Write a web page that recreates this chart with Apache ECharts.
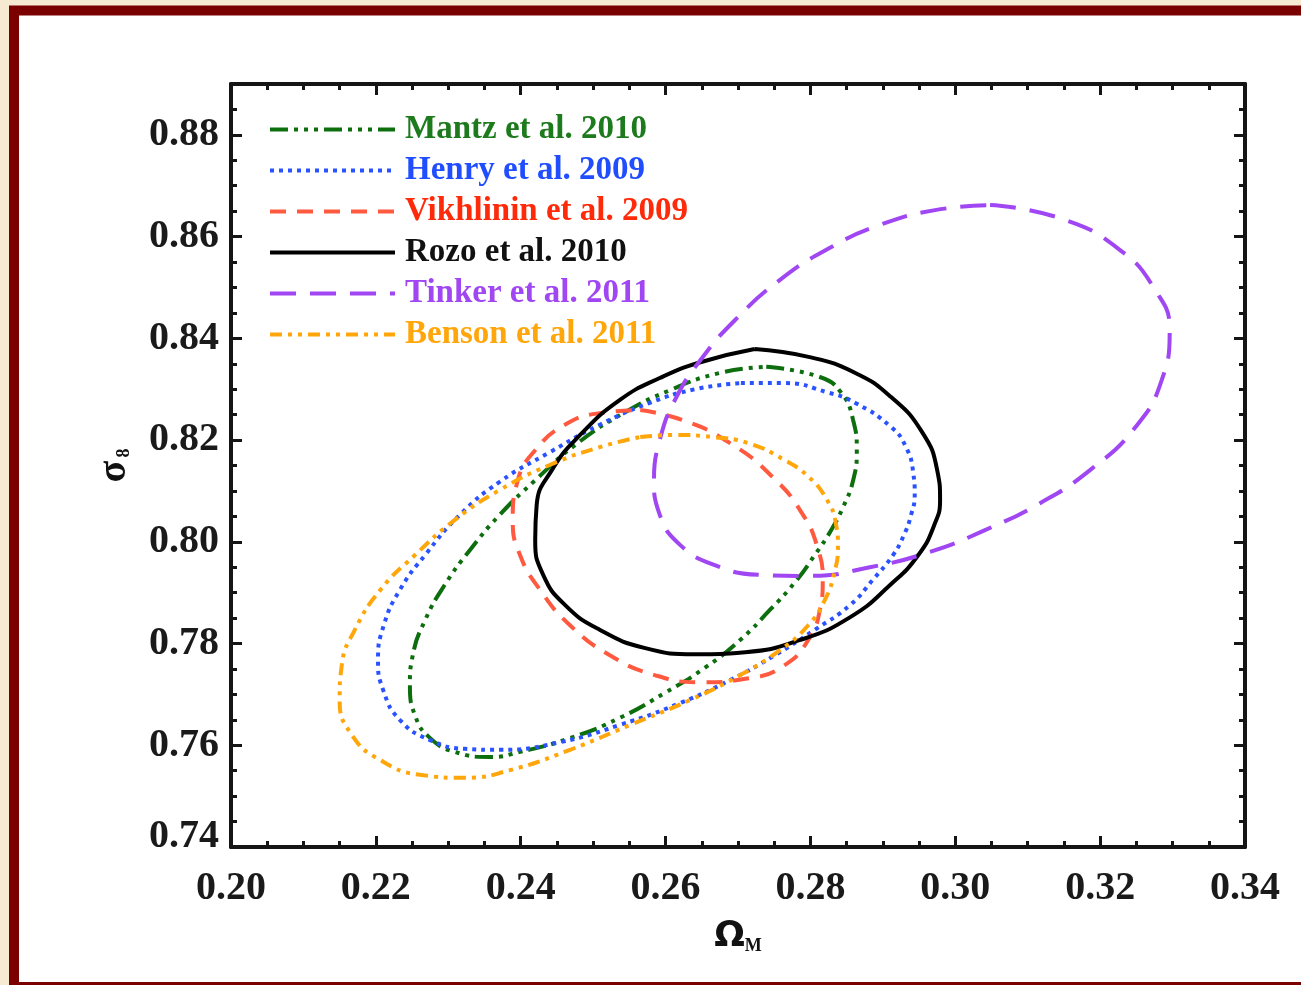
<!DOCTYPE html>
<html><head><meta charset="utf-8">
<script src="https://cdn.jsdelivr.net/npm/echarts@6/dist/echarts.min.js"></script>
<style>html,body{margin:0;padding:0;background:#f6ead2;}#c{width:1301px;height:985px;}</style>
</head><body><div id="c"></div>
<script>
// ---- data (Omega_M, sigma_8) ----
const names = ['Mantz et al. 2010','Henry et al. 2009','Vikhlinin et al. 2009','Rozo et al. 2010','Tinker et al. 2011','Benson et al. 2011'];
const mantz = [[0.2739,0.8344],[0.2813,0.8324],[0.2842,0.8294],[0.2859,0.8239],[0.2864,0.8180],[0.2859,0.8121],[0.2845,0.8068],[0.2827,0.8019],[0.2806,0.7974],[0.2779,0.7921],[0.2744,0.7866],[0.2703,0.7807],[0.2654,0.7752],[0.2599,0.7703],[0.2537,0.7654],[0.2468,0.7614],[0.2399,0.7587],[0.2358,0.7577],[0.2309,0.7587],[0.2275,0.7614],[0.2254,0.7659],[0.2247,0.7718],[0.2251,0.7777],[0.2268,0.7846],[0.2295,0.7915],[0.2330,0.7984],[0.2371,0.8053],[0.2420,0.8121],[0.2475,0.8190],[0.2537,0.8249],[0.2606,0.8298],[0.2675,0.8332],[0.2739,0.8344]];
const henry = [[0.2704,0.8312],[0.2764,0.8312],[0.2823,0.8294],[0.2862,0.8273],[0.2911,0.8226],[0.2932,0.8186],[0.2942,0.8135],[0.2944,0.8092],[0.2939,0.8053],[0.2929,0.8013],[0.2914,0.7974],[0.2886,0.7925],[0.2855,0.7876],[0.2806,0.7827],[0.2751,0.7777],[0.2689,0.7728],[0.2620,0.7683],[0.2537,0.7640],[0.2454,0.7606],[0.2371,0.7591],[0.2323,0.7593],[0.2275,0.7610],[0.2233,0.7650],[0.2210,0.7709],[0.2203,0.7768],[0.2211,0.7836],[0.2233,0.7905],[0.2268,0.7974],[0.2316,0.8053],[0.2371,0.8118],[0.2440,0.8176],[0.2509,0.8230],[0.2578,0.8273],[0.2641,0.8300],[0.2704,0.8312]];
const vikhlinin = [[0.2565,0.8259],[0.2624,0.8239],[0.2689,0.8194],[0.2748,0.8127],[0.2788,0.8057],[0.2810,0.7988],[0.2817,0.7925],[0.2813,0.7866],[0.2797,0.7807],[0.2765,0.7758],[0.2717,0.7732],[0.2648,0.7724],[0.2585,0.7738],[0.2523,0.7777],[0.2468,0.7836],[0.2427,0.7905],[0.2399,0.7974],[0.2389,0.8043],[0.2396,0.8121],[0.2420,0.8180],[0.2461,0.8230],[0.2509,0.8253],[0.2565,0.8259]];
const rozo = [[0.2723,0.8379],[0.2799,0.8363],[0.2862,0.8332],[0.2911,0.8285],[0.2954,0.8216],[0.2975,0.8141],[0.2979,0.8082],[0.2971,0.8033],[0.2949,0.7974],[0.2910,0.7915],[0.2855,0.7852],[0.2786,0.7807],[0.2710,0.7783],[0.2641,0.7779],[0.2572,0.7791],[0.2509,0.7827],[0.2461,0.7876],[0.2431,0.7935],[0.2420,0.8003],[0.2422,0.8072],[0.2443,0.8141],[0.2482,0.8210],[0.2537,0.8279],[0.2592,0.8322],[0.2648,0.8353],[0.2723,0.8379]];
const tinker = [[0.3048,0.8662],[0.3145,0.8636],[0.3227,0.8574],[0.3276,0.8495],[0.3296,0.8416],[0.3285,0.8318],[0.3248,0.8224],[0.3186,0.8141],[0.3117,0.8076],[0.3041,0.8023],[0.2965,0.7980],[0.2882,0.7950],[0.2799,0.7933],[0.2730,0.7935],[0.2668,0.7954],[0.2620,0.7994],[0.2592,0.8053],[0.2584,0.8121],[0.2592,0.8200],[0.2613,0.8279],[0.2648,0.8357],[0.2696,0.8436],[0.2758,0.8515],[0.2827,0.8578],[0.2896,0.8623],[0.2972,0.8652],[0.3048,0.8662]];
const benson = [[0.2565,0.8206],[0.2614,0.8210],[0.2664,0.8206],[0.2714,0.8194],[0.2764,0.8161],[0.2798,0.8127],[0.2823,0.8082],[0.2835,0.8037],[0.2838,0.7990],[0.2833,0.7939],[0.2820,0.7886],[0.2797,0.7836],[0.2758,0.7787],[0.2703,0.7738],[0.2634,0.7689],[0.2551,0.7640],[0.2468,0.7591],[0.2385,0.7551],[0.2323,0.7536],[0.2261,0.7542],[0.2206,0.7571],[0.2167,0.7620],[0.2150,0.7689],[0.2153,0.7758],[0.2171,0.7827],[0.2206,0.7905],[0.2254,0.7974],[0.2309,0.8043],[0.2371,0.8102],[0.2440,0.8151],[0.2509,0.8186],[0.2565,0.8206]];
const xRange = [0.20, 0.34];
const yRange = [0.74, 0.89];
const colors = ['#0d6e0d','#2a52ff','#ff5a40','#000000','#a046f2','#ffa60a'];
const textColors = ['#1d7a1d','#1f4dff','#ff2a0a','#111111','#a046f2','#ffa60a'];
const dashes = [[18,6,4,6,4,6,4,6],[4,5],[16,11],'solid',[26,14],[12,6,4,6,4,6]];
const datasets = [mantz, henry, vikhlinin, rozo, tinker, benson];

const FONT = 'Liberation Serif';
const lab = {fontFamily:FONT,fontWeight:'bold',fontSize:40,color:'#1a1a1a'};
function fmt(v){ return v.toFixed(2); }
function axisX(pos, major){
  return {type:'value', position:pos, min:xRange[0], max:xRange[1], interval: major?0.02:0.005,
    axisLine:{show:major, onZero:false, lineStyle:{color:'#151515',width:4}},
    axisTick:{show:true, inside:true, length: major?11:6, lineStyle:{color:'#151515',width:3}},
    axisLabel:{show: major && pos==='bottom', margin:22, formatter:fmt, ...lab},
    splitLine:{show:false}};
}
function axisY(pos, major){
  return {type:'value', position:pos, min:yRange[0], max:yRange[1], interval: major?0.02:0.005,
    axisLine:{show:major, onZero:false, lineStyle:{color:'#151515',width:4}},
    axisTick:{show:true, inside:true, length: major?11:6, lineStyle:{color:'#151515',width:3}},
    axisLabel:{show: major && pos==='left', margin:12, showMaxLabel:false,
      formatter: v => Math.abs(v-0.74)<1e-6 ? '{lo|0.74}' : fmt(v),
      rich:{lo:{...lab, padding:[0,0,20,0]}}, ...lab},
    splitLine:{show:false}};
}
const xa = [axisX('bottom',true), axisX('bottom',false), axisX('top',true), axisX('top',false)];
const ya = [axisY('left',true), axisY('left',false), axisY('right',true), axisY('right',false)];
xa[0].name = '{a|Ω}{b|M}';
xa[0].nameLocation = 'middle';
xa[0].nameGap = 72;
xa[0].nameTextStyle = {rich:{a:{fontFamily:'DejaVu Sans',fontWeight:'bold',fontSize:36,color:'#111'},b:{fontFamily:FONT,fontWeight:'bold',fontSize:18,color:'#111',padding:[18,0,0,0]}}};
ya[0].name = '{a|σ}{b|8}';
ya[0].nameLocation = 'middle';
ya[0].nameRotate = 90;
ya[0].nameGap = 96;
ya[0].nameTextStyle = {rich:{a:{fontFamily:FONT,fontWeight:'bold',fontSize:40,color:'#111'},b:{fontFamily:FONT,fontWeight:'bold',fontSize:18,color:'#111',padding:[18,0,0,3]}}};

const series = names.map((n,i)=>({
  name:n, type:'line', xAxisIndex:0, yAxisIndex:0, data:datasets[i], smooth:0.5, symbol:'none',
  lineStyle:{color:colors[i], width:4, type:dashes[i]}, itemStyle:{color:colors[i]}, animation:false
}));

const chart = echarts.init(document.getElementById('c'));
chart.setOption({
  backgroundColor:'#f6ead2',
  animation:false,
  graphic:[{type:'rect', z:-100, silent:true, shape:{x:14,y:10.5,width:1300,height:976.5}, style:{fill:'#ffffff', stroke:'#7a0000', lineWidth:10}}],
  grid:{left:231, right:56, top:84, bottom:138, containLabel:false},
  xAxis: xa, yAxis: ya,
  legend:{orient:'vertical', left:263, top:108, itemWidth:125, itemHeight:14, itemGap:8,
    itemStyle:{opacity:0}, lineStyle:{width:4},
    data: names.map((n,i)=>({name:n, textStyle:{color:textColors[i]}})),
    textStyle:{fontFamily:FONT, fontWeight:'bold', fontSize:33, lineHeight:30, padding:[0,0,0,5]}},
  series: series
});
</script></body></html>
